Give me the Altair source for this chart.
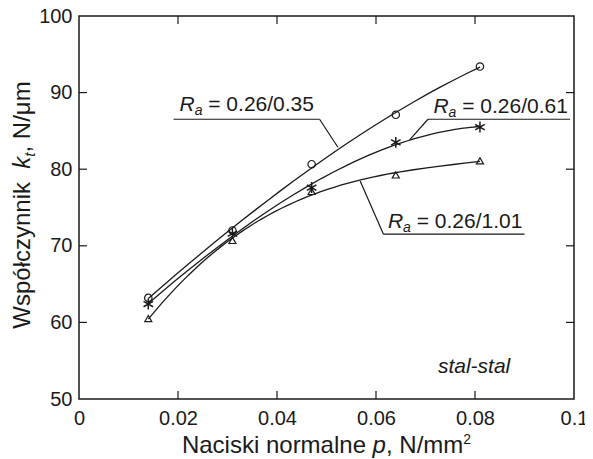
import altair as alt
import pandas as pd

# ---------------- data ----------------
pressure = [0.014, 0.031, 0.047, 0.064, 0.081]
kt_035 = [63.2, 72.0, 80.65, 87.1, 93.4]     # circles
kt_061 = [62.4, 71.6, 77.6, 83.5, 85.5]      # asterisks
kt_101 = [60.5, 70.7, 77.1, 79.25, 81.1]     # triangles
series_names = ["0.26/0.35", "0.26/0.61", "0.26/1.01"]

x_ticks = [0, 0.02, 0.04, 0.06, 0.08, 0.1]
y_ticks = [50, 60, 70, 80, 90, 100]
x_inner_ticks = [0.02, 0.04, 0.06, 0.08]
y_inner_ticks = [60, 70, 80, 90]

# annotation anchors (data coordinates)
ann_labels = ["0.26/0.35", "0.26/0.61", "0.26/1.01"]
ann_text_x = [0.0203, 0.0716, 0.0624]
ann_text_y = [87.56, 87.39, 72.27]
ann_under_start = [0.0191, 0.0992, 0.0900]
ann_knee_x = [0.0486, 0.0705, 0.0615]
ann_under_y = [86.52, 86.52, 71.52]
ann_curve_x = [0.0523, 0.0668, 0.0568]
ann_curve_y = [82.87, 83.82, 78.47]

note_text = "stal-stal"
note_x = [0.0725]
note_y = [53.41]

# ---------------- layout helpers ----------------
W, H = 495, 383
INK = "#1a1a1a"
FONT = "Liberation Sans"
NBSP = "\u00a0"

ARIAL = {' ': 278, NBSP: 278, ',': 278, '.': 278, '/': 278, '-': 333, '=': 584,
         'N': 722, 'R': 722, 'W': 944, 'a': 556, 'c': 500, 'e': 556,
         'i': 222, 'k': 500, 'l': 222, 'm': 833, 'n': 556, 'o': 556,
         'ó': 556, 'p': 556, 'r': 333, 's': 500, 't': 278, 'y': 500,
         'z': 500, 'ł': 222, 'μ': 576}
for d in "0123456789":
    ARIAL[d] = 556


def tw(s, size):
    return sum(ARIAL.get(c, 556) for c in s) * size / 1000.0


rows = []
for name, vals in zip(series_names, [kt_035, kt_061, kt_101]):
    for p, v in zip(pressure, vals):
        rows.append({"p": p, "kt": v, "series": name})
df = pd.DataFrame(rows)

xs = alt.Scale(domain=[0, 0.1], nice=False, zero=False)
ys = alt.Scale(domain=[50, 100], nice=False, zero=False)

x_axis = alt.Axis(values=x_ticks, format="~g", title=None, ticks=False, tickSize=0,
                  domain=False, grid=False, labelFontSize=20, labelFont=FONT,
                  labelColor=INK, labelPadding=9, labelFlush=False, labelOverlap=False)
y_axis = alt.Axis(values=y_ticks, title=None, ticks=False, tickSize=0,
                  domain=False, grid=False, labelFontSize=20, labelFont=FONT,
                  labelColor=INK, labelPadding=7, labelFlush=False, labelOverlap=False)

X = alt.X("p:Q", scale=xs, axis=x_axis)
Y = alt.Y("kt:Q", scale=ys, axis=y_axis)

lines = alt.Chart(df).transform_regression(
    "p", "kt", groupby=["series"], method="poly", order=3, extent=[pressure[0], pressure[-1]]
).mark_line(color=INK, strokeWidth=1.3).encode(
    x=X, y=Y, detail="series:N",
)

circles = alt.Chart(df).transform_filter(alt.datum.series == series_names[0]).mark_point(
    shape="circle", filled=False, size=55, color=INK, strokeWidth=1.2, opacity=1
).encode(x=X, y=Y)

asterisk_path = ("M0,-1L0,1M-0.87,-0.5L0.87,0.5M-0.87,0.5L0.87,-0.5")
asterisks = alt.Chart(df).transform_filter(alt.datum.series == series_names[1]).mark_point(
    shape=asterisk_path, filled=False, size=120, color=INK, strokeWidth=1.5, opacity=1
).encode(x=X, y=Y)

triangles = alt.Chart(df).transform_filter(alt.datum.series == series_names[2]).mark_point(
    shape="triangle-up", filled=False, size=50, color=INK, strokeWidth=1.2, opacity=1
).encode(x=X, y=Y)

# inward ticks on all four sides
xt = pd.DataFrame({"p": x_inner_ticks})
yt = pd.DataFrame({"kt": y_inner_ticks})
tick_bottom = alt.Chart(xt).mark_rule(color=INK, strokeWidth=1.2).encode(
    x=X, y=alt.value(H), y2=alt.value(H - 8))
tick_top = alt.Chart(xt).mark_rule(color=INK, strokeWidth=1.2).encode(
    x=X, y=alt.value(0), y2=alt.value(8))
tick_left = alt.Chart(yt).mark_rule(color=INK, strokeWidth=1.2).encode(
    y=Y, x=alt.value(0), x2=alt.value(8))
tick_right = alt.Chart(yt).mark_rule(color=INK, strokeWidth=1.2).encode(
    y=Y, x=alt.value(W), x2=alt.value(W - 8))

# annotation leader lines
seg_rows = []
for i in range(3):
    seg_rows.append({"p": ann_under_start[i], "kt": ann_under_y[i],
                     "p2": ann_knee_x[i], "kt2": ann_under_y[i]})
    seg_rows.append({"p": ann_knee_x[i], "kt": ann_under_y[i],
                     "p2": ann_curve_x[i], "kt2": ann_curve_y[i]})
segs = alt.Chart(pd.DataFrame(seg_rows)).mark_rule(color=INK, strokeWidth=1.2).encode(
    x=X, y=Y, x2="p2:Q", y2="kt2:Q")

# annotation texts  R_a = ...
AF = 21
SUBF = 14
ann_df = pd.DataFrame({"p": ann_text_x, "kt": ann_text_y,
                       "rest": ["=" + NBSP + s for s in ann_labels]})
ann_R = alt.Chart(ann_df).mark_text(
    text="R", font=FONT, fontSize=AF, fontStyle="italic", align="left",
    baseline="alphabetic", color=INK).encode(x=X, y=Y)
ann_a = alt.Chart(ann_df).mark_text(
    text="a", font=FONT, fontSize=SUBF, fontStyle="italic", align="left",
    baseline="alphabetic", color=INK, dx=tw("R", AF), dy=4).encode(x=X, y=Y)
ann_rest = alt.Chart(ann_df).mark_text(
    font=FONT, fontSize=AF, align="left", baseline="alphabetic", color=INK,
    dx=tw("R", AF) + tw("a", SUBF) + tw(" ", AF)).encode(x=X, y=Y, text="rest:N")

note = alt.Chart(pd.DataFrame({"p": note_x, "kt": note_y, "t": [note_text]})).mark_text(
    font=FONT, fontSize=21, fontStyle="italic", align="left", baseline="alphabetic",
    color=INK).encode(x=X, y=Y, text="t:N")

# ---------------- axis titles built from pieces ----------------
TF = 24
layers_titles = []


def piece(text, px, py, size, italic=False, angle=0):
    kw = dict(font=FONT, fontSize=size, align="left", baseline="alphabetic", color=INK)
    if italic:
        kw["fontStyle"] = "italic"
    if angle:
        kw["angle"] = angle
    return alt.Chart(pd.DataFrame({"t": [text]})).mark_text(**kw).encode(
        x=alt.value(px), y=alt.value(py), text="t:N")


# x title: "Naciski normalne p, N/mm²"
xt_parts = [("Naciski normalne ", TF, False, 0), ("p", TF, True, 0),
            (", N/mm", TF, False, 0), ("2", 14, False, -9)]
total = sum(tw(s, f) for s, f, _, _ in xt_parts)
cx = W / 2 - total / 2
base_y = 437
for s, f, it, shift in xt_parts:
    layers_titles.append(piece(s, cx, base_y + shift, f, it))
    cx += tw(s, f)

# y title: "Współczynnik  k_t, N/μm" (rotated)
yt_parts = [("Współczynnik  ", TF, False, 0), ("k", TF, True, 0),
            ("t", 15, True, 5), (", N/μm", TF, False, 0)]
total = sum(tw(s, f) for s, f, _, _ in yt_parts)
cy = 189 + total / 2
base_x = -49
for s, f, it, shift in yt_parts:
    layers_titles.append(piece(s, base_x + shift, cy, f, it, angle=270))
    cy -= tw(s, f)

chart = alt.layer(
    lines, circles, asterisks, triangles,
    tick_bottom, tick_top, tick_left, tick_right,
    segs, ann_R, ann_a, ann_rest, note, *layers_titles
).properties(
    width=W, height=H,
    autosize=alt.AutoSizeParams(type="none"),
    padding={"left": 71, "top": 8, "right": 11, "bottom": 60},
).configure_view(stroke=INK, strokeWidth=1.5)

chart.save("out.html", embed_options={"renderer": "svg", "actions": False})
